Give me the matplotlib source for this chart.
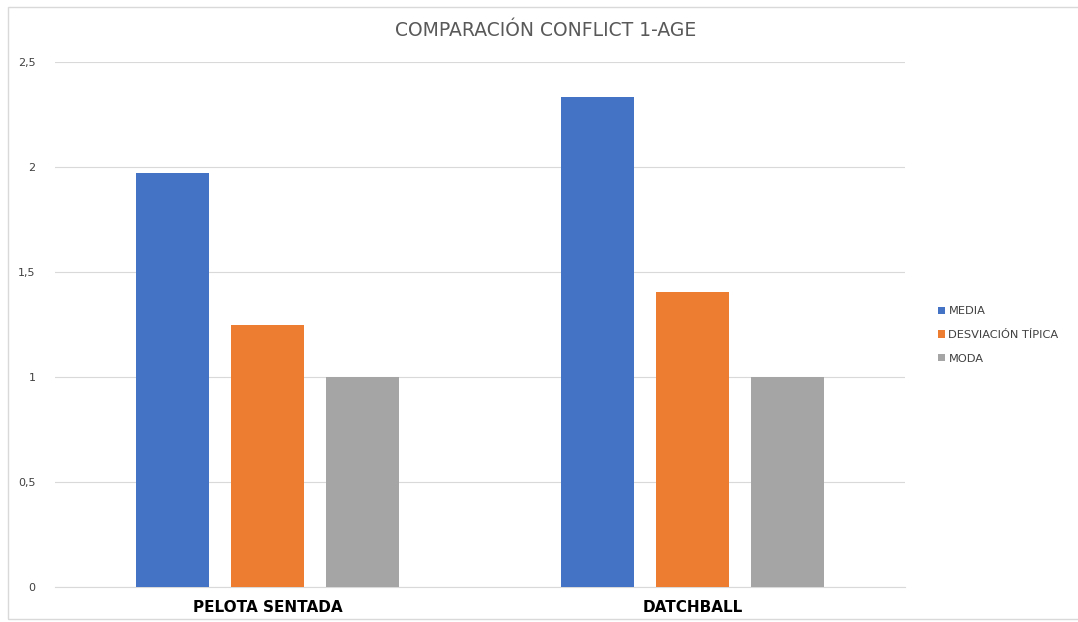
import matplotlib.pyplot as plt
from matplotlib.patches import Rectangle
import numpy as np

categories = ['PELOTA SENTADA', 'DATCHBALL']
series_names = ['MEDIA', 'DESVIACIÓN TÍPICA', 'MODA']
media = [1.97, 2.333]
desviacion = [1.248, 1.405]
moda = [1.0, 1.0]
colors = ['#4472C4', '#ED7D31', '#A5A5A5']
yticks = [0, 0.5, 1, 1.5, 2, 2.5]
ytick_labels = ['0', '0,5', '1', '1,5', '2', '2,5']

fig = plt.figure(figsize=(10.78, 6.22), dpi=100)
ax = fig.add_axes([55 / 1078, 35 / 622, 850 / 1078, 525 / 622])

x = np.arange(len(categories))
width = 0.174
step = 0.2235
for i, (vals, name) in enumerate(zip([media, desviacion, moda], series_names)):
    ax.bar(x + (i - 1) * step, vals, width, color=colors[i], label=name, zorder=3)

ax.set_xlim(-0.5, 1.5)
ax.set_ylim(0, 2.5)
ax.set_yticks(yticks)
ax.set_yticklabels(ytick_labels, fontsize=8, color='#404040')
ax.set_xticks(x)
ax.set_xticklabels(categories, fontsize=11, fontweight='bold', color='black')
ax.tick_params(axis='both', length=0)
ax.tick_params(axis='y', pad=14)
ax.tick_params(axis='x', pad=9)
ax.grid(axis='y', color='#D9D9D9', linewidth=0.8, zorder=0)
for s in ['top', 'right', 'left']:
    ax.spines[s].set_visible(False)
ax.spines['bottom'].set_color('#D9D9D9')

fig.text(546 / 1078, 1 - 30 / 622, 'COMPARACIÓN CONFLICT 1-AGE', ha='center', va='center',
         fontsize=13.5, color='#595959')

ax.legend(loc='center left', bbox_to_anchor=(928 / 1078, 1 - 335 / 622),
          bbox_transform=fig.transFigure, frameon=False, fontsize=8.2,
          handlelength=0.6, handleheight=0.6, handletextpad=0.3, labelspacing=1.2,
          labelcolor='#404040')

fig.patches.append(Rectangle((8 / 1078, 0.005), 1.2, 1 - 7 / 622 - 0.005,
                             transform=fig.transFigure, fill=False,
                             edgecolor='#D9D9D9', linewidth=1))

fig.savefig('out.png', dpi=100)
